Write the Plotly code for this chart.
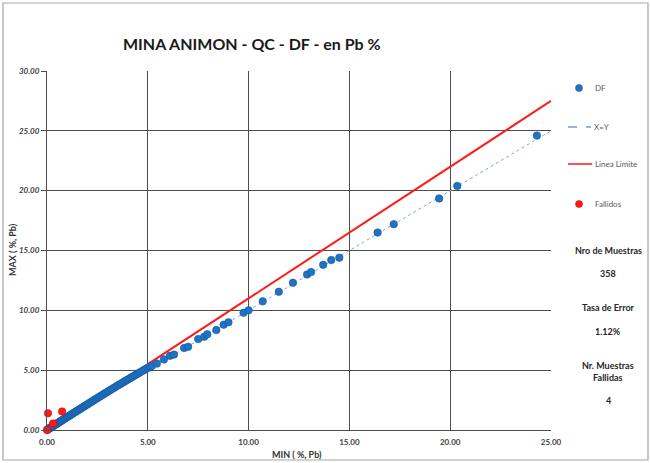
import plotly.graph_objects as go

# ---------------- data ----------------
df_min = [0.02, 0.05, 0.08, 0.10, 0.12, 0.15, 0.18, 0.20, 0.23, 0.25, 0.28, 0.30, 0.33, 0.36,
          0.40, 0.43, 0.46, 0.50, 0.53, 0.57, 0.60, 0.64, 0.68, 0.72, 0.76, 0.80, 0.85, 0.90,
          0.95, 1.00, 1.05, 1.10, 1.15, 1.20, 1.26, 1.32, 1.38, 1.44, 1.50, 1.56, 1.62, 1.68,
          1.75, 1.82, 1.88, 1.95, 2.02, 2.10, 2.18, 2.25, 2.32, 2.40, 2.48, 2.55, 2.62, 2.70,
          2.78, 2.86, 2.94, 3.02, 3.10, 3.18, 3.26, 3.35, 3.44, 3.52, 3.60, 3.68, 3.76, 3.85,
          3.94, 4.02, 4.10, 4.18, 4.26, 4.35, 4.44, 4.52, 4.60, 4.70, 4.80, 4.90, 5.00, 5.10,
          5.20, 5.45, 5.80, 6.10, 6.30, 6.80, 7.00, 7.50, 7.80, 7.95, 8.40, 8.76, 9.00, 9.75,
          10.00, 10.70, 11.50, 12.20, 12.90, 13.10, 13.70, 14.10, 14.50, 16.40, 17.20, 19.45,
          20.35, 24.30]
df_max = [0.03, 0.06, 0.10, 0.12, 0.14, 0.17, 0.20, 0.23, 0.26, 0.28, 0.31, 0.33, 0.37, 0.40,
          0.44, 0.47, 0.50, 0.55, 0.58, 0.62, 0.65, 0.70, 0.74, 0.78, 0.82, 0.87, 0.92, 0.97,
          1.02, 1.08, 1.13, 1.18, 1.24, 1.29, 1.35, 1.42, 1.48, 1.54, 1.61, 1.67, 1.74, 1.80,
          1.88, 1.95, 2.01, 2.09, 2.16, 2.25, 2.33, 2.40, 2.48, 2.57, 2.65, 2.72, 2.80, 2.88,
          2.96, 3.05, 3.13, 3.21, 3.30, 3.38, 3.46, 3.55, 3.65, 3.73, 3.81, 3.89, 3.97, 4.06,
          4.15, 4.23, 4.31, 4.39, 4.47, 4.56, 4.65, 4.73, 4.81, 4.90, 5.00, 5.09, 5.18, 5.28,
          5.35, 5.55, 5.90, 6.20, 6.30, 6.85, 6.95, 7.60, 7.80, 8.00, 8.35, 8.80, 9.00, 9.80,
          10.00, 10.75, 11.55, 12.30, 13.00, 13.20, 13.80, 14.20, 14.40, 16.50, 17.20, 19.35,
          20.40, 24.60]

fail_min = [0.00, 0.05, 0.30, 0.75]
fail_max = [0.00, 1.40, 0.55, 1.55]

ref_x = [0, 25]          # X=Y line
limit_factor = 1.1       # Linea Limite: MAX = 1.1 * MIN

x_ticks = [0, 5, 10, 15, 20, 25]
y_ticks = [0, 5, 10, 15, 20, 25, 30]

title = "MINA ANIMON - QC - DF - en Pb %"
stats = [("Nro de Muestras", 250), ("358", 273), ("Tasa de Error", 307), ("1.12%", 331),
         ("Nr. Muestras<br>Fallidas", 371), ("4", 400)]

# ---------------- layout helpers ----------------
L, R, T, B = 47, 551, 71, 430
def px(x):
    return (x - L) / (R - L)
def py(y):
    return (B - y) / (B - T)

FONT = "Lato, 'Open Sans', sans-serif"
BLUE = "#1f72c4"
RED = "#ff1a1a"

fig = go.Figure()

fig.add_trace(go.Scatter(x=ref_x, y=ref_x, mode="lines",
                         line=dict(color="#7aa6dc", width=1, dash="dot"),
                         showlegend=False, hoverinfo="skip"))
fig.add_trace(go.Scatter(x=ref_x, y=[v * limit_factor for v in ref_x], mode="lines",
                         line=dict(color=RED, width=2),
                         showlegend=False, hoverinfo="skip"))
fig.add_trace(go.Scatter(x=df_min, y=df_max, mode="markers", cliponaxis=False,
                         marker=dict(color=BLUE, size=7.5, line=dict(color="#16589a", width=0.6)),
                         showlegend=False))
fig.add_trace(go.Scatter(x=fail_min, y=fail_max, mode="markers", cliponaxis=False,
                         marker=dict(color=RED, size=7.5, line=dict(color="#e00000", width=0.5)),
                         showlegend=False))

shapes = []
annotations = []

# outer frame
shapes.append(dict(type="rect", xref="paper", yref="paper",
                   x0=px(3), x1=px(648), y0=py(460), y1=py(3),
                   line=dict(color="#a6a6a6", width=1.2), fillcolor="rgba(0,0,0,0)", layer="below"))

# manual legend
def circle(cx, cy, color, edge):
    return dict(type="circle", xref="paper", yref="paper", xsizemode="pixel", ysizemode="pixel",
                xanchor=px(cx), yanchor=py(cy), x0=-3.5, x1=3.5, y0=-3.5, y1=3.5,
                fillcolor=color, line=dict(color=edge, width=0.6))
shapes.append(circle(579, 88, BLUE, "#16589a"))
shapes.append(circle(579, 204, RED, "#e00000"))
shapes.append(dict(type="line", xref="paper", yref="paper", x0=px(568), x1=px(591),
                   y0=py(127), y1=py(127), line=dict(color="#6f9fd8", width=1.5, dash="dash")))
shapes.append(dict(type="line", xref="paper", yref="paper", x0=px(568), x1=px(592),
                   y0=py(164), y1=py(164), line=dict(color=RED, width=1.5)))
for txt, xx, yy in [("DF", 593, 88), ("X=Y", 592, 127), ("Linea Limite", 593, 164), ("Fallidos", 593, 204)]:
    annotations.append(dict(text=txt, xref="paper", yref="paper", x=px(xx), y=py(yy),
                            xanchor="left", yanchor="middle", showarrow=False,
                            font=dict(family=FONT, size=8, color="#595959")))

for txt, yy in stats:
    annotations.append(dict(text="<b>" + txt + "</b>", xref="paper", yref="paper", x=px(608), y=py(yy),
                            xanchor="center", yanchor="middle", showarrow=False,
                            font=dict(family=FONT, size=9, color="#262626")))

annotations.append(dict(text="<b>" + title + "</b>", xref="paper", yref="paper",
                        x=px(252), y=py(43), xanchor="center", yanchor="middle", showarrow=False,
                        font=dict(family=FONT, size=16, color="#1a1a1a")))
annotations.append(dict(text="<b>MIN ( %, Pb)</b>", xref="paper", yref="paper",
                        x=px(297), y=py(454), xanchor="center", yanchor="middle", showarrow=False,
                        font=dict(family=FONT, size=9, color="#333333")))
annotations.append(dict(text="<b>MAX ( %, Pb)</b>", xref="paper", yref="paper", textangle=-90,
                        x=px(12), y=py(250), xanchor="center", yanchor="middle", showarrow=False,
                        font=dict(family=FONT, size=9, color="#333333")))

fig.update_layout(
    width=650, height=463,
    margin=dict(l=L, r=650 - R, t=T, b=463 - B),
    paper_bgcolor="white", plot_bgcolor="white",
    shapes=shapes, annotations=annotations,
    font=dict(family=FONT),
    xaxis=dict(range=[0, 25], tickvals=x_ticks, ticktext=["<b>%.2f</b>" % v for v in x_ticks],
               showgrid=True, gridcolor="#4d4d4d", gridwidth=1,
               showline=True, linecolor="#4d4d4d", linewidth=1, mirror=False,
               zeroline=False, ticks="", tickfont=dict(size=8, color="#404040"), ticklabelstandoff=4),
    yaxis=dict(range=[0, 30], tickvals=y_ticks, ticktext=["<b><i>%.2f</i></b>" % v for v in y_ticks],
               showgrid=True, gridcolor="#4d4d4d", gridwidth=1,
               showline=True, linecolor="#4d4d4d", linewidth=1,
               zeroline=False, ticks="outside", ticklen=5, tickcolor="#4d4d4d",
               tickfont=dict(size=8, color="#404040")),
)

fig.write_html("out.html", config={"displayModeBar": False},
               post_script="document.body.style.margin='0px';document.body.style.padding='0px';")
